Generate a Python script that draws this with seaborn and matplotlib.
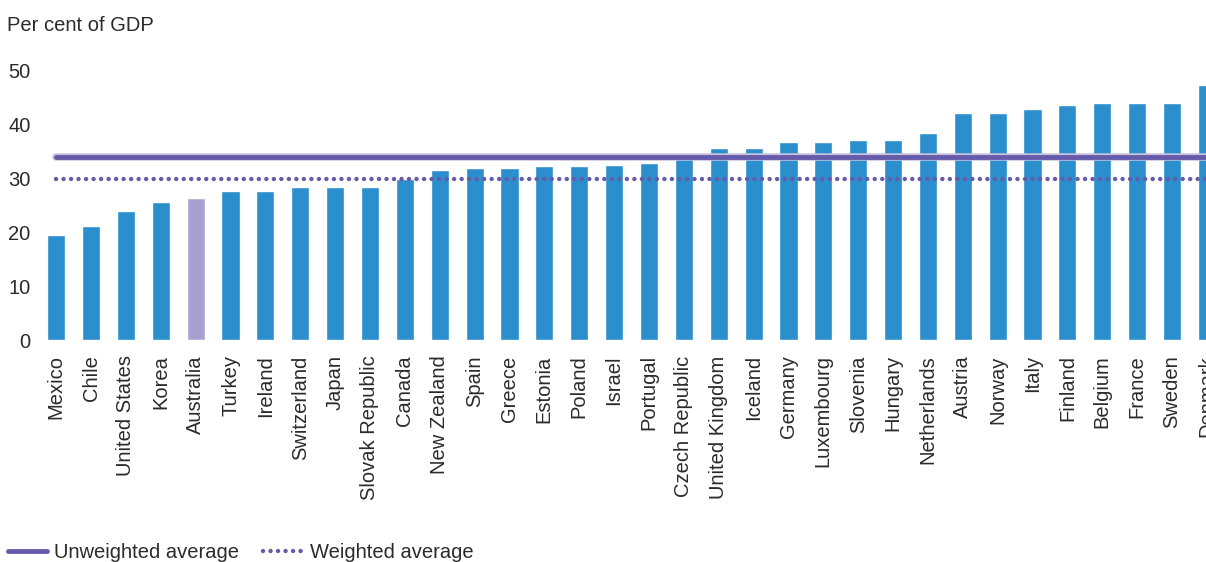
import matplotlib
matplotlib.use("Agg")
import matplotlib.pyplot as plt
import seaborn as sns
import pandas as pd

countries = ["Mexico", "Chile", "United States", "Korea", "Australia", "Turkey",
             "Ireland", "Switzerland", "Japan", "Slovak Republic", "Canada",
             "New Zealand", "Spain", "Greece", "Estonia", "Poland", "Israel",
             "Portugal", "Czech Republic", "United Kingdom", "Iceland", "Germany",
             "Luxembourg", "Slovenia", "Hungary", "Netherlands", "Austria",
             "Norway", "Italy", "Finland", "Belgium", "France", "Sweden", "Denmark"]
tax_share = [19.4, 21.1, 23.9, 25.5, 26.3, 27.6, 27.6, 28.3, 28.3, 28.3, 29.9,
             31.5, 31.9, 31.9, 32.2, 32.2, 32.4, 32.8, 34.6, 35.6, 35.6, 36.7,
             36.7, 37.0, 37.0, 38.3, 42.0, 42.0, 42.8, 43.5, 43.9, 43.9, 43.9, 47.2]
highlight = "Australia"
unweighted_avg = 33.9
weighted_avg = 29.8

BLUE = "#2b8ecd"
LAVENDER = "#a7a1cf"
PURPLE = "#665bab"
TEXT = "#2b2b2b"

sns.set_theme(style="white")
plt.rcParams["font.family"] = ["Liberation Sans", "DejaVu Sans"]

df = pd.DataFrame({
    "country": countries,
    "value": tax_share,
    "group": ["hl" if c == highlight else "other" for c in countries],
})

fig = plt.figure(figsize=(12.06, 5.62), dpi=100)
ax = fig.add_axes([0.0321, 0.395, 0.9831, 0.4804])

sns.barplot(data=df, x="country", y="value", hue="group",
            palette={"hl": LAVENDER, "other": BLUE}, dodge=False,
            width=0.52, legend=False, saturation=1, ax=ax)

n = len(countries)
xs = [0, n - 1]
# light halo behind the unweighted average line
ax.plot(xs, [unweighted_avg] * 2, color="#c6c2de", lw=5.4,
        solid_capstyle="round", zorder=3)
ax.plot(xs, [unweighted_avg] * 2, color=PURPLE, lw=3.5,
        solid_capstyle="round", zorder=4, label="Unweighted average")
ax.plot(xs, [weighted_avg] * 2, color=PURPLE, lw=3.2,
        linestyle=(0, (0.01, 1.68)), dash_capstyle="round", zorder=4,
        label="Weighted average")

ax.set_xlim(-0.5, n - 0.5)
ax.set_ylim(0, 50)
ax.set_yticks([0, 10, 20, 30, 40, 50])
ax.set_xlabel("")
ax.set_ylabel("")
for s in ax.spines.values():
    s.set_visible(False)
ax.tick_params(axis="y", length=0, pad=6, labelsize=14.5, labelcolor=TEXT)
ax.tick_params(axis="x", length=0, pad=11, labelsize=14.5, labelcolor=TEXT)
plt.setp(ax.get_xticklabels(), rotation=90, ha="center", va="top")

fig.text(7 / 1206, 1 - 31 / 562, "Per cent of GDP", fontsize=14.5,
         color=TEXT, ha="left", va="baseline")

ax.legend(loc="center left", bbox_to_anchor=(8 / 1206, 1 - 553 / 562),
          bbox_transform=fig.transFigure, ncol=2, frameon=False,
          fontsize=14.5, handlelength=1.95, handletextpad=0.35,
          columnspacing=1.2, borderpad=0, borderaxespad=0,
          labelcolor=TEXT)

fig.savefig("out.png", dpi=100)
